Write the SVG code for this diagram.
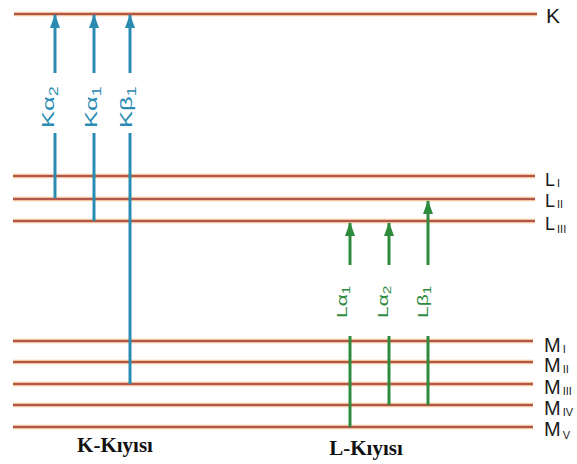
<svg xmlns="http://www.w3.org/2000/svg" width="577" height="464" viewBox="0 0 577 464">
  <defs>
    <style>
      .halo { stroke: #f3c49a; stroke-width: 4.5; fill: none; }
      .core { stroke: #b0564c; stroke-width: 2.2; fill: none; }
      .kline { stroke: #2b8cb3; stroke-width: 3; fill: none; }
      .lline { stroke: #2e8a3c; stroke-width: 3; fill: none; }
      .lbl { font-family: "Liberation Sans", Arial, sans-serif; fill: #1a1a1a; }
      .klbl { font-family: "Liberation Sans", Arial, sans-serif; fill: #2b8cb3; font-size: 17px; }
      .llbl { font-family: "Liberation Sans", Arial, sans-serif; fill: #2e8a3c; font-size: 15px; }
      .edge { font-family: "Liberation Serif", "Times New Roman", serif; font-weight: bold; font-size: 21px; fill: #111; }
    </style>
    <!-- arrowheads point along the line direction -->
    <marker id="headK" viewBox="0 0 14 10" refX="13" refY="5" markerWidth="14" markerHeight="10" markerUnits="userSpaceOnUse" orient="auto">
      <path d="M0,0 L14,5 L0,10 Z" fill="#2b8cb3"/>
    </marker>
    <marker id="headL" viewBox="0 0 14 10" refX="13" refY="5" markerWidth="14" markerHeight="10" markerUnits="userSpaceOnUse" orient="auto">
      <path d="M0,0 L14,5 L0,10 Z" fill="#2e8a3c"/>
    </marker>
  </defs>

  <rect width="577" height="464" fill="#ffffff"/>

  <!-- energy levels -->
  <g id="level-K">
    <line class="halo" x1="14" y1="14" x2="537" y2="14"/>
    <line class="core" x1="14" y1="14" x2="537" y2="14"/>
    <text class="lbl" x="546" y="23" font-size="21">K</text>
  </g>
  <g id="level-LI">
    <line class="halo" x1="13" y1="176" x2="535" y2="176"/>
    <line class="core" x1="13" y1="176" x2="535" y2="176"/>
    <text class="lbl" x="545" y="186" font-size="18">L<tspan font-size="11" dy="1" dx="2">I</tspan></text>
  </g>
  <g id="level-LII">
    <line class="halo" x1="13" y1="199" x2="535" y2="199"/>
    <line class="core" x1="13" y1="199" x2="535" y2="199"/>
    <text class="lbl" x="545" y="207" font-size="18">L<tspan font-size="11" dy="1" dx="2">II</tspan></text>
  </g>
  <g id="level-LIII">
    <line class="halo" x1="13" y1="221" x2="535" y2="221"/>
    <line class="core" x1="13" y1="221" x2="535" y2="221"/>
    <text class="lbl" x="545" y="230" font-size="18">L<tspan font-size="11" dy="3" dx="2">III</tspan></text>
  </g>
  <g id="level-MI">
    <line class="halo" x1="13" y1="341" x2="533" y2="341"/>
    <line class="core" x1="13" y1="341" x2="533" y2="341"/>
    <text class="lbl" x="544" y="352" font-size="20">M<tspan font-size="11" dy="1" dx="2">I</tspan></text>
  </g>
  <g id="level-MII">
    <line class="halo" x1="13" y1="362" x2="533" y2="362"/>
    <line class="core" x1="13" y1="362" x2="533" y2="362"/>
    <text class="lbl" x="544" y="372" font-size="20">M<tspan font-size="11" dy="1" dx="2">II</tspan></text>
  </g>
  <g id="level-MIII">
    <line class="halo" x1="13" y1="384" x2="533" y2="384"/>
    <line class="core" x1="13" y1="384" x2="533" y2="384"/>
    <text class="lbl" x="544" y="394" font-size="20">M<tspan font-size="11" dy="1" dx="2">III</tspan></text>
  </g>
  <g id="level-MIV">
    <line class="halo" x1="13" y1="405" x2="533" y2="405"/>
    <line class="core" x1="13" y1="405" x2="533" y2="405"/>
    <text class="lbl" x="544" y="415" font-size="20">M<tspan font-size="11" dy="1" dx="2">IV</tspan></text>
  </g>
  <g id="level-MV">
    <line class="halo" x1="13" y1="427" x2="533" y2="427"/>
    <line class="core" x1="13" y1="427" x2="533" y2="427"/>
    <text class="lbl" x="544" y="436" font-size="20">M<tspan font-size="11" dy="3" dx="2">V</tspan></text>
  </g>

  <!-- transitions -->
  <g id="connectors">
    <!-- K series -->
    <line class="kline" x1="55" y1="73" x2="55" y2="15" marker-end="url(#headK)"/>
    <line class="kline" x1="55" y1="133" x2="55" y2="198"/>
    <line class="kline" x1="94" y1="73" x2="94" y2="15" marker-end="url(#headK)"/>
    <line class="kline" x1="94" y1="133" x2="94" y2="221"/>
    <line class="kline" x1="130" y1="73" x2="130" y2="15" marker-end="url(#headK)"/>
    <line class="kline" x1="130" y1="133" x2="130" y2="384"/>
    <!-- L series -->
    <line class="lline" x1="350" y1="265" x2="350" y2="223" marker-end="url(#headL)"/>
    <line class="lline" x1="350" y1="336" x2="350" y2="427"/>
    <line class="lline" x1="389" y1="265" x2="389" y2="223" marker-end="url(#headL)"/>
    <line class="lline" x1="389" y1="336" x2="389" y2="405"/>
    <line class="lline" x1="428" y1="265" x2="428" y2="201" marker-end="url(#headL)"/>
    <line class="lline" x1="428" y1="336" x2="428" y2="405"/>
  </g>

  <!-- line labels -->
  <g id="label-Ka2"><text class="klbl" transform="translate(54,128) rotate(-90) scale(1.5,1)">Kα<tspan font-size="12" dy="4">2</tspan></text></g>
  <g id="label-Ka1"><text class="klbl" transform="translate(97,128) rotate(-90) scale(1.5,1)">Kα<tspan font-size="12" dy="4">1</tspan></text></g>
  <g id="label-Kb1"><text class="klbl" transform="translate(132,128) rotate(-90) scale(1.5,1)">Kβ<tspan font-size="12" dy="4">1</tspan></text></g>
  <g id="label-La1"><text class="llbl" transform="translate(347,318) rotate(-90) scale(1.4,1)">Lα<tspan font-size="11" dy="3">1</tspan></text></g>
  <g id="label-La2"><text class="llbl" transform="translate(388,318) rotate(-90) scale(1.4,1)">Lα<tspan font-size="11" dy="3">2</tspan></text></g>
  <g id="label-Lb1"><text class="llbl" transform="translate(428,318) rotate(-90) scale(1.4,1)">Lβ<tspan font-size="11" dy="3">1</tspan></text></g>

  <!-- absorption edges -->
  <g id="edge-K"><text class="edge" x="115" y="452" text-anchor="middle">K-Kıyısı</text></g>
  <g id="edge-L"><text class="edge" x="366" y="455" text-anchor="middle">L-Kıyısı</text></g>
</svg>
